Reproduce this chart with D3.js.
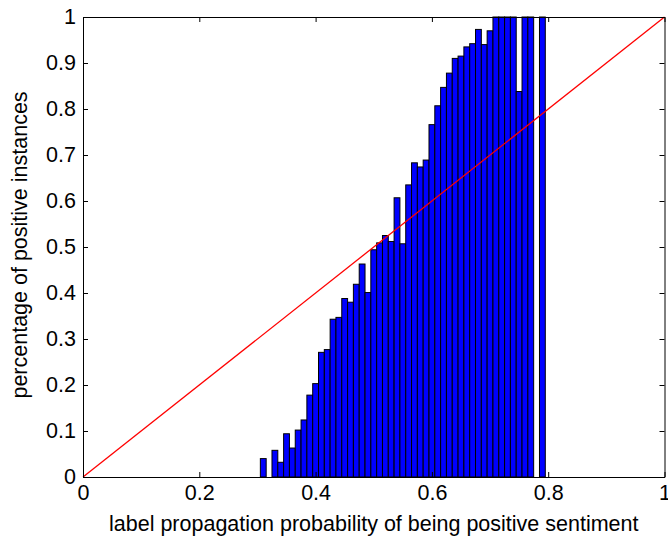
<!DOCTYPE html>
<html>
<head>
<meta charset="utf-8">
<script src="https://cdn.jsdelivr.net/npm/d3@7"></script>
<style>
  html, body { margin: 0; padding: 0; background: #fff; }
  svg { display: block; font-family: "Liberation Sans", Arial, Helvetica, sans-serif; }
</style>
</head>
<body>
<svg id="chart" width="668" height="538"></svg>
<script>
// Bin centres (label propagation probability) and share of positive instances per bin
const binCenters = [0.31, 0.32, 0.33, 0.34, 0.35, 0.36, 0.37, 0.38, 0.39, 0.40,
                    0.41, 0.42, 0.43, 0.44, 0.45, 0.46, 0.47, 0.48, 0.49, 0.50,
                    0.51, 0.52, 0.53, 0.54, 0.55, 0.56, 0.57, 0.58, 0.59, 0.60,
                    0.61, 0.62, 0.63, 0.64, 0.65, 0.66, 0.67, 0.68, 0.69, 0.70,
                    0.71, 0.72, 0.73, 0.74, 0.75, 0.76, 0.77, 0.78, 0.79];
const positiveShare = [0.04, 0, 0.058, 0.032, 0.094, 0.063, 0.102, 0.124, 0.178, 0.203,
                       0.271, 0.277, 0.343, 0.347, 0.388, 0.380, 0.419, 0.463, 0.401, 0.494,
                       0.509, 0.525, 0.512, 0.607, 0.507, 0.635, 0.683, 0.674, 0.689, 0.766,
                       0.807, 0.847, 0.878, 0.910, 0.915, 0.935, 0.942, 0.973, 0.940, 0.970,
                       1, 1, 1, 1, 0.838, 1, 1, 0, 1];
const binWidth = 0.01;
const xTicks = [0, 0.2, 0.4, 0.6, 0.8, 1];
const yTicks = [0, 0.1, 0.2, 0.3, 0.4, 0.5, 0.6, 0.7, 0.8, 0.9, 1];
// Reference diagonal y = x
const diagonal = [[0, 0], [1, 1]];

const svg = d3.select("#chart");
const plotLeft = 83, plotRight = 664.5, plotTop = 17, plotBottom = 477;
const fontSize = 21.5;

const x = d3.scaleLinear().domain([0, 1]).range([plotLeft, plotRight]);
const y = d3.scaleLinear().domain([0, 1]).range([plotBottom, plotTop]);

const fmt = d => String(d);

// Bars
svg.append("g")
  .selectAll("rect")
  .data(binCenters.map((c, i) => ({ c, v: positiveShare[i] })).filter(d => d.v > 0))
  .join("rect")
  .attr("x", d => x(d.c - binWidth / 2))
  .attr("width", d => x(d.c + binWidth / 2) - x(d.c - binWidth / 2))
  .attr("y", d => y(d.v))
  .attr("height", d => y(0) - y(d.v))
  .attr("fill", "#0000ff")
  .attr("stroke", "#000")
  .attr("stroke-width", 1);

// Diagonal line
svg.append("path")
  .datum(diagonal)
  .attr("d", d3.line().x(d => x(d[0])).y(d => y(d[1])))
  .attr("fill", "none")
  .attr("stroke", "#ff0000")
  .attr("stroke-width", 1.3);

// Axes with inward ticks on all four sides
const tickLen = 5;
const axisStyle = g => {
  g.select(".domain").attr("stroke", "#000").attr("stroke-width", 1);
  g.selectAll(".tick line").attr("stroke", "#000");
  g.selectAll("text").attr("fill", "#000").attr("font-size", fontSize);
};

svg.append("g")
  .attr("transform", `translate(0,${plotBottom})`)
  .call(d3.axisBottom(x).tickValues(xTicks).tickFormat(fmt).tickSizeInner(-tickLen).tickSizeOuter(0).tickPadding(8))
  .call(axisStyle)
  .call(g => g.selectAll("text").attr("dy", "0.71em"));

svg.append("g")
  .attr("transform", `translate(${plotLeft},0)`)
  .call(d3.axisLeft(y).tickValues(yTicks).tickFormat(fmt).tickSizeInner(-tickLen).tickSizeOuter(0).tickPadding(7))
  .call(axisStyle);

svg.append("g")
  .attr("transform", `translate(0,${plotTop})`)
  .call(d3.axisTop(x).tickValues(xTicks).tickFormat("").tickSizeInner(-tickLen).tickSizeOuter(0))
  .call(axisStyle);

svg.append("g")
  .attr("transform", `translate(${plotRight},0)`)
  .call(d3.axisRight(y).tickValues(yTicks).tickFormat("").tickSizeInner(-tickLen).tickSizeOuter(0))
  .call(axisStyle);

// Axis titles
svg.append("text")
  .attr("x", (plotLeft + plotRight) / 2)
  .attr("y", 531)
  .attr("text-anchor", "middle")
  .attr("font-size", fontSize)
  .attr("fill", "#000")
  .text("label propagation probability of being positive sentiment");

svg.append("text")
  .attr("transform", `translate(27,${(plotTop + plotBottom) / 2 - 2}) rotate(-90)`)
  .attr("text-anchor", "middle")
  .attr("font-size", fontSize)
  .attr("fill", "#000")
  .text("percentage of positive instances");
</script>
</body>
</html>
